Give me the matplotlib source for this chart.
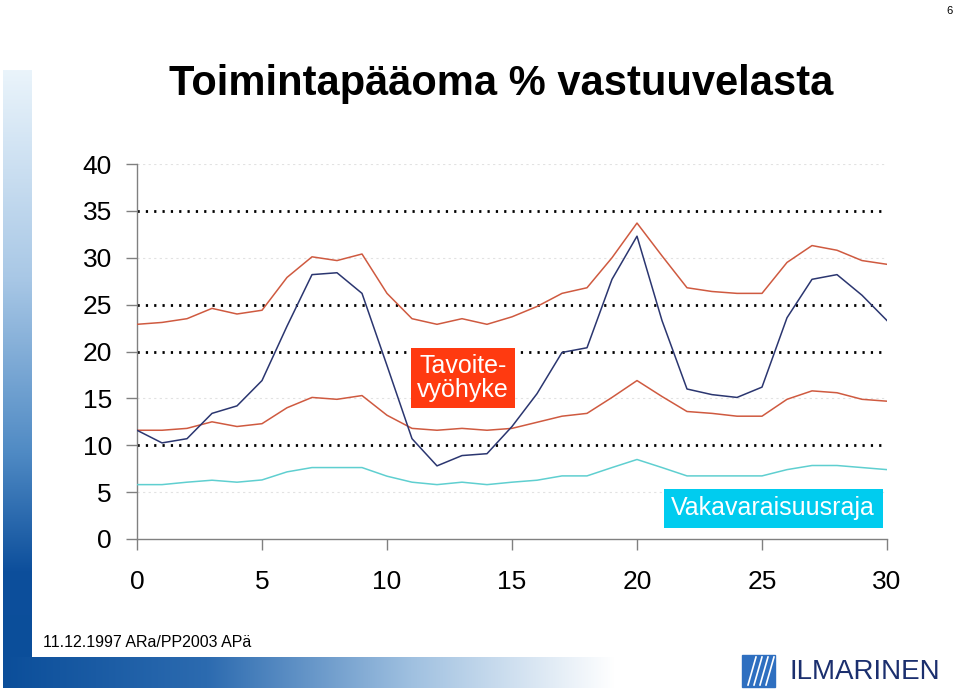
import numpy as np
import matplotlib
matplotlib.use("Agg")
import matplotlib.pyplot as plt
from matplotlib.colors import LinearSegmentedColormap
from matplotlib.patches import Rectangle

plt.rcParams['font.family'] = ['Liberation Sans', 'DejaVu Sans']

# vuodet 0..30
x = list(range(31))

toimintapaaoma = [11.6, 10.25, 10.7, 13.4, 14.2, 16.9, 22.7, 28.2, 28.4, 26.2,
                  18.5, 10.7, 7.8, 8.9, 9.1, 12.0, 15.5, 19.9, 20.4, 27.7,
                  32.3, 23.3, 16.0, 15.4, 15.1, 16.2, 23.6, 27.7, 28.2, 26.0,
                  23.3]
yläraja = [22.9, 23.1, 23.5, 24.6, 24.0, 24.4, 27.9, 30.1, 29.7, 30.4,
           26.2, 23.5, 22.9, 23.5, 22.9, 23.7, 24.8, 26.2, 26.8, 30.0,
           33.7, 30.2, 26.8, 26.4, 26.2, 26.2, 29.5, 31.3, 30.8, 29.7,
           29.3]
alaraja = [11.6, 11.6, 11.8, 12.5, 12.0, 12.3, 14.0, 15.1, 14.9, 15.3,
           13.2, 11.8, 11.6, 11.8, 11.6, 11.8, 12.45, 13.1, 13.4, 15.1,
           16.9, 15.2, 13.6, 13.4, 13.1, 13.1, 14.9, 15.8, 15.6, 14.9,
           14.7]
vakavaraisuusraja = [5.8, 5.8, 6.06, 6.27, 6.06, 6.3, 7.16, 7.62, 7.62, 7.62,
                     6.7, 6.06, 5.8, 6.06, 5.8, 6.06, 6.27, 6.73, 6.73, 7.62,
                     8.48, 7.62, 6.73, 6.73, 6.73, 6.73, 7.4, 7.84, 7.84, 7.62,
                     7.4]

yticks = [0, 5, 10, 15, 20, 25, 30, 35, 40]
xticks = [0, 5, 10, 15, 20, 25, 30]
mustat_viivat = [10, 20, 25, 35]
vaaleat_viivat = [5, 15, 30, 40]

fig = plt.figure(figsize=(9.6, 6.92), dpi=100)
fig.patch.set_facecolor('white')

# taustakoristeet (pikselikoordinaatit)
bg = fig.add_axes([0, 0, 1, 1], zorder=0)
pysty = LinearSegmentedColormap.from_list(
    'p', [(0, '#eaf4fb'), (0.35, '#a9c8e6'), (0.65, '#4f8ac4'), (0.85, '#0d4f9c'), (1, '#0b4e9a')])
vaaka = LinearSegmentedColormap.from_list('v', ['#0b4e9a', '#2c6bb0', '#9fc0e0', '#ffffff'])
bg.imshow(np.linspace(0, 1, 256).reshape(-1, 1), cmap=pysty, aspect='auto',
          extent=[3, 32, 660, 70])
bg.imshow(np.linspace(0, 1, 256).reshape(1, -1), cmap=vaaka, aspect='auto',
          extent=[3, 615, 688, 657])
bg.set_xlim(0, 960)
bg.set_ylim(692, 0)
bg.axis('off')

# logo
bg.add_patch(Rectangle((742, 655), 33, 32, color='#2e6fc0'))
for k in range(4):
    bg.plot([748 + k * 6, 756 + k * 6], [685, 657], color='white', lw=1.2)
bg.text(789, 672, 'ILMARINEN', fontsize=20, color='#1b2f6e', va='center', ha='left')

fig.text(0.992, 0.992, '6', fontsize=8, ha='right', va='top')
fig.text(0.045, 0.072, '11.12.1997 ARa/PP2003 APä', fontsize=11.5, ha='left', va='center')
fig.text(0.522, 0.878, 'Toimintapääoma % vastuuvelasta', fontsize=30, fontweight='bold',
         ha='center', va='center')

ax = fig.add_axes([137 / 960, 153 / 692, 750 / 960, 375 / 692], zorder=1)
ax.patch.set_alpha(0)

for v in vaaleat_viivat:
    ax.axhline(v, color='#e2e2e2', lw=0.8, ls=(0, (2, 3)), zorder=1)
for v in mustat_viivat:
    ax.axhline(v, color='black', lw=2.0, ls=(0, (0.8, 2.2)), zorder=1)

ax.plot(x, yläraja, color='#cf5a40', lw=1.1, zorder=3)
ax.plot(x, alaraja, color='#cf5a40', lw=1.1, zorder=3)
ax.plot(x, vakavaraisuusraja, color='#5fcfd0', lw=1.1, zorder=3)
ax.plot(x, toimintapaaoma, color='#2b3670', lw=1.1, zorder=4)

ax.text(13.05, 17.2, 'Tavoite-\nvyöhyke', fontsize=18, color='white', ha='center', va='center',
        linespacing=1.0,
        bbox=dict(boxstyle='square,pad=0.25', fc='#ff3a10', ec='none'), zorder=5)
ax.text(25.45, 3.3, 'Vakavaraisuusraja', fontsize=18, color='white', ha='center', va='center',
        bbox=dict(boxstyle='square,pad=0.3', fc='#00ccef', ec='none'), zorder=5)

ax.set_xlim(0, 30)
ax.set_ylim(0, 40)
ax.set_xticks(xticks)
ax.set_yticks(yticks)
ax.tick_params(axis='y', labelsize=19, length=8, width=1, color='#808080', pad=10)
ax.tick_params(axis='x', labelsize=19, length=8, width=1, color='#808080', pad=14)
for s in ['top', 'right']:
    ax.spines[s].set_visible(False)
for s in ['left', 'bottom']:
    ax.spines[s].set_color('#808080')
    ax.spines[s].set_linewidth(1.0)

fig.savefig('out.png', dpi=100)
